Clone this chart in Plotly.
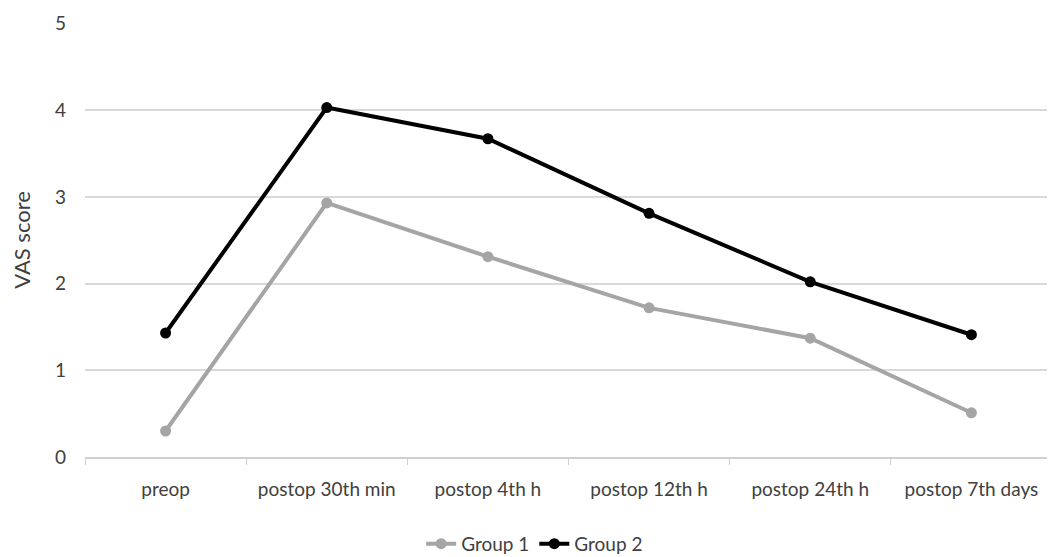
import plotly.graph_objects as go

categories = ["preop", "postop 30th min", "postop 4th h", "postop 12th h", "postop 24th h", "postop 7th days"]
group1 = [0.30, 2.93, 2.31, 1.72, 1.37, 0.51]
group2 = [1.43, 4.03, 3.67, 2.81, 2.02, 1.41]
y_ticks = [0, 1, 2, 3, 4, 5]

fig = go.Figure()
fig.add_trace(go.Scatter(
    x=categories, y=group1, name="Group 1", mode="lines+markers",
    line=dict(color="#A5A5A5", width=4),
    marker=dict(color="#A5A5A5", size=11),
))
fig.add_trace(go.Scatter(
    x=categories, y=group2, name="Group 2", mode="lines+markers",
    line=dict(color="#000000", width=4),
    marker=dict(color="#000000", size=11),
))

font_family = "Lato, Liberation Sans, sans-serif"
fig.update_layout(
    width=1055, height=557,
    margin=dict(l=77, r=11, t=15, b=108, autoexpand=False),
    paper_bgcolor="white", plot_bgcolor="white",
    font=dict(family=font_family, size=19, color="#404040"),
    showlegend=True,
    legend=dict(orientation="h", x=0.465, xanchor="center", y=-0.2, yanchor="middle",
                font=dict(size=19, color="#404040"), tracegroupgap=0),
    xaxis=dict(
        type="category", tickson="boundaries", ticks="outside", ticklen=6,
        tickcolor="#D0D0D0", showline=True, linecolor="#D0D0D0", linewidth=1.5,
        showgrid=False, tickfont=dict(size=19, color="#404040"),
        ticklabelstandoff=14,
        range=[-0.5, 5.5], automargin=False,
    ),
    yaxis=dict(
        range=[0, 5.005], tickvals=y_ticks, showgrid=True, gridcolor="#D9D9D9",
        gridwidth=1.5, zeroline=False, showline=False, ticks="",
        tickfont=dict(size=19, color="#404040"), ticklabelstandoff=18,
        automargin=False,
        title=dict(text="VAS score", font=dict(size=22, color="#404040"), standoff=22),
    ),
)

fig.write_html("out.html")
